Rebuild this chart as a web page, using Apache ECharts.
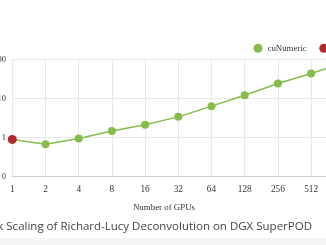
<!DOCTYPE html>
<html><head><meta charset="utf-8">
<script src="https://cdn.jsdelivr.net/npm/echarts@6/dist/echarts.min.js"></script>
<style>
html,body{margin:0;padding:0;width:326px;height:245px;overflow:hidden;background:#fff;position:relative}
#c{position:absolute;left:-30px;top:0;width:420px;height:245px}
</style></head><body>
<div id="c"></div>
<script>
const gpus = ['1','2','4','8','16','32','64','128','256','512','1024'];
const cuNumeric = [0.9, 0.68, 0.95, 1.47, 2.15, 3.4, 6.4, 12.2, 24.4, 44, 83];
const baseline = [0.9, null, null, null, null, null, null, null, null, null, null];
const yTicks = {0.1:'0', 1:'1', 10:'10', 100:'100'};
const titleText = 'Weak Scaling of Richard-Lucy Deconvolution on DGX SuperPOD';
const xName = 'Number of GPUs';

const chart = echarts.init(document.getElementById('c'), null, {renderer:'canvas'});
const serif = '"Liberation Serif", "Times New Roman", serif';
chart.setOption({
  animation:false,
  grid:{left:42.3, right:45.7, top:59.5, bottom:68.3, containLabel:false},
  legend:{
    data:['cuNumeric','NumPy'],
    left:278.5, top:38.8,
    icon:'circle', itemWidth:9, itemHeight:9, itemGap:12.7,
    textStyle:{fontFamily:serif, fontSize:8.8, color:'#333'},
  },
  xAxis:{
    type:'category', data:gpus, boundaryGap:false,
    axisLine:{lineStyle:{color:'#cccccc'}},
    axisTick:{show:false},
    splitLine:{show:true, lineStyle:{color:'#e8e8e8'}},
    axisLabel:{fontFamily:serif, fontSize:9.3, color:'#333', margin:8}
  },
  yAxis:{
    type:'log', logBase:10, min:0.1, max:100,
    axisLine:{show:false}, axisTick:{show:false},
    splitLine:{lineStyle:{color:'#e8e8e8'}},
    axisLabel:{fontFamily:serif, fontSize:8.5, color:'#333', margin:6.3,
      formatter:v=>yTicks[v] !== undefined ? yTicks[v] : String(v)}
  },
  graphic:[
    {type:'text', x:194, y:208, style:{text:xName, fontFamily:serif, fontSize:8.9, fill:'#333', align:'center', verticalAlign:'middle'}},
    {type:'text', x:342, y:226.5, style:{text:titleText, fontFamily:'"Open Sans", sans-serif', fontSize:11.5, fill:'#444', align:'right', verticalAlign:'middle'}},
    {type:'rect', shape:{x:0, y:238, width:420, height:7}, style:{fill:'#f5f5f5'}}
  ],
  series:[
    {name:'cuNumeric', type:'line', data:cuNumeric, symbol:'circle', symbolSize:8,
     itemStyle:{color:'#86bc4b'}, lineStyle:{color:'#86bc4b', width:1.5}},
    {name:'NumPy', type:'line', data:baseline, symbol:'circle', symbolSize:9,
     itemStyle:{color:'#b3282d'}}
  ]
});
</script>
</body></html>
